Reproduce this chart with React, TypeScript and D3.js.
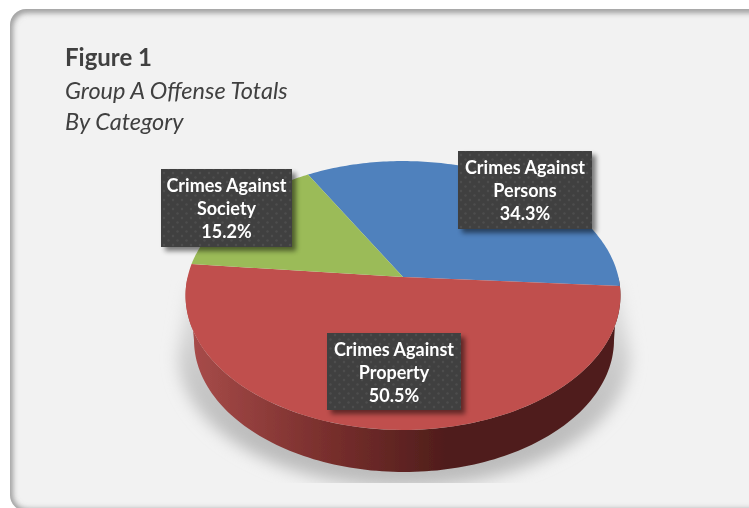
import React from "react";
import * as d3 from "d3";

const categories = ["Crimes Against Persons", "Crimes Against Property", "Crimes Against Society"];
const labelLines = [["Crimes Against", "Persons"], ["Crimes Against", "Property"], ["Crimes Against", "Society"]];
const shares = [34.3, 50.5, 15.2];
const colors = ["#4f81bd", "#c0504d", "#9bbb59"];
const titleLines = ["Figure 1", "Group A Offense Totals", "By Category"];

const W = 749, H = 508;
const font = "Lato, 'Open Sans', sans-serif";
const apex = { x: 403, y: 277 };
const K = 0.1375, A = 215.4, B = 131.9;
const deg = Math.PI / 180;

// d3 pie angle (0 = 12 o'clock, clockwise) projected onto the tilted disc
const project = (a: number) => {
  const u = Math.sin(a), v = -Math.cos(a), w = 1 - K * v;
  return [apex.x + (A * u) / w, apex.y + (B * v) / w] as [number, number];
};
const bottomProject = (a: number) => {
  const u = Math.sin(a), v = -Math.cos(a);
  return [404 + 210 * u, 340 + 132 * v] as [number, number];
};
const shadowProject = (a: number) => {
  const u = Math.sin(a), v = -Math.cos(a);
  return [404 + 226 * u, 355 + 132 * v] as [number, number];
};
const line = d3.line();
const sample = (a0: number, a1: number, f: (a: number) => [number, number]) =>
  d3.range(0, 121).map((i) => f(a0 + ((a1 - a0) * i) / 120));

const pie = d3.pie<number>().sort(null).startAngle(-29.6 * deg).endAngle(330.4 * deg);
const slices = pie(shares);

const wallTop = sample(90 * deg, 270 * deg, project);
const wallBottom = sample(270 * deg, 90 * deg, bottomProject);
const wallPath = line([...wallTop, ...wallBottom]) + "Z";
const shadowPath =
  line([[618, 283], ...sample(90 * deg, 270 * deg, shadowProject), [190, 283]]) + "Z";

const boxes = [
  { x: 458, y: 151, w: 134, h: 78 },
  { x: 327, y: 333, w: 134, h: 77 },
  { x: 161, y: 169, w: 131, h: 78 },
];

export default function App() {
  return (
    <svg width={W} height={H} viewBox={`0 0 ${W} ${H}`} style={{ position: "absolute", left: 0, top: 0 }}>
      <defs>
        <filter id="cardIn" x="-5%" y="-5%" width="110%" height="110%">
          <feGaussianBlur stdDeviation="3" />
        </filter>
        <filter id="blur" x="-20%" y="-20%" width="140%" height="140%">
          <feGaussianBlur stdDeviation="8" />
        </filter>
        <filter id="boxShadow" x="-20%" y="-20%" width="140%" height="140%">
          <feGaussianBlur stdDeviation="2.5" />
        </filter>
        <filter id="soft" x="-5%" y="-5%" width="110%" height="110%">
          <feGaussianBlur stdDeviation="0.35" />
        </filter>
        <linearGradient id="wall" gradientUnits="userSpaceOnUse" x1="190" x2="620" y1="0" y2="0">
          <stop offset="0" stopColor="#a84c4a" />
          <stop offset="0.3" stopColor="#7b302e" />
          <stop offset="0.6" stopColor="#4f1d1b" />
          <stop offset="1" stopColor="#4f1d1b" />
        </linearGradient>
        <linearGradient id="shadowFade" gradientUnits="userSpaceOnUse" x1="0" x2="0" y1="283" y2="440">
          <stop offset="0" stopColor="#e4e4e4" />
          <stop offset="0.6" stopColor="#c8c8c8" />
          <stop offset="1" stopColor="#bcbcbc" />
        </linearGradient>
        <pattern id="dots" width="9" height="9" patternUnits="userSpaceOnUse">
          <rect width="9" height="9" fill="#404040" />
          <circle cx="2" cy="2" r="1.2" fill="#4d4d4d" />
          <circle cx="6.5" cy="6.5" r="1.2" fill="#4d4d4d" />
        </pattern>
        <clipPath id="shadowClip">
          <rect x="100" y="280" width="620" height="203" />
        </clipPath>
        <clipPath id="cardClip">
          <rect x="10" y="9" width="770" height="502" rx="16" />
        </clipPath>
      </defs>

      <rect x="0" y="0" width={W} height={H} fill="#ffffff" />
      <g clipPath="url(#cardClip)">
        <rect x="10" y="9" width="770" height="502" fill="#f2f2f2" />
        <rect x="9" y="9" width="770" height="504" rx="18" fill="none" stroke="#808080" strokeWidth="6" filter="url(#cardIn)" />
      </g>

      <g fontFamily={font} fill="#404040" filter="url(#soft)">
        <text x="65" y="66" fontSize="24" fontWeight="700">{titleLines[0]}</text>
        <text x="65" y="99" fontSize="23.5" fontStyle="italic">{titleLines[1]}</text>
        <text x="65" y="130" fontSize="23.5" fontStyle="italic">{titleLines[2]}</text>
      </g>

      <g clipPath="url(#shadowClip)">
        <path d={shadowPath} fill="url(#shadowFade)" filter="url(#blur)" />
      </g>

      <g filter="url(#soft)">
        <path d={wallPath} fill="url(#wall)" />
        {slices.map((s, i) => (
          <path
            key={categories[i]}
            d={line([[apex.x, apex.y], ...sample(s.startAngle, s.endAngle, project)]) + "Z"}
            fill={colors[i]}
          />
        ))}
      </g>

      {boxes.map((b, i) => (
        <g key={categories[i]}>
          <rect x={b.x + 4} y={b.y + 4} width={b.w} height={b.h} fill="#000" opacity="0.5" filter="url(#boxShadow)" />
          <rect x={b.x} y={b.y} width={b.w} height={b.h} fill="url(#dots)" />
          <g fontFamily={font} fontWeight="700" fontSize="18" fill="#ffffff" textAnchor="middle" filter="url(#soft)">
            <text x={b.x + b.w / 2} y={b.y + 23}>{labelLines[i][0]}</text>
            <text x={b.x + b.w / 2} y={b.y + 46}>{labelLines[i][1]}</text>
            <text x={b.x + b.w / 2} y={b.y + 69}>{shares[i].toFixed(1)}%</text>
          </g>
        </g>
      ))}
    </svg>
  );
}
